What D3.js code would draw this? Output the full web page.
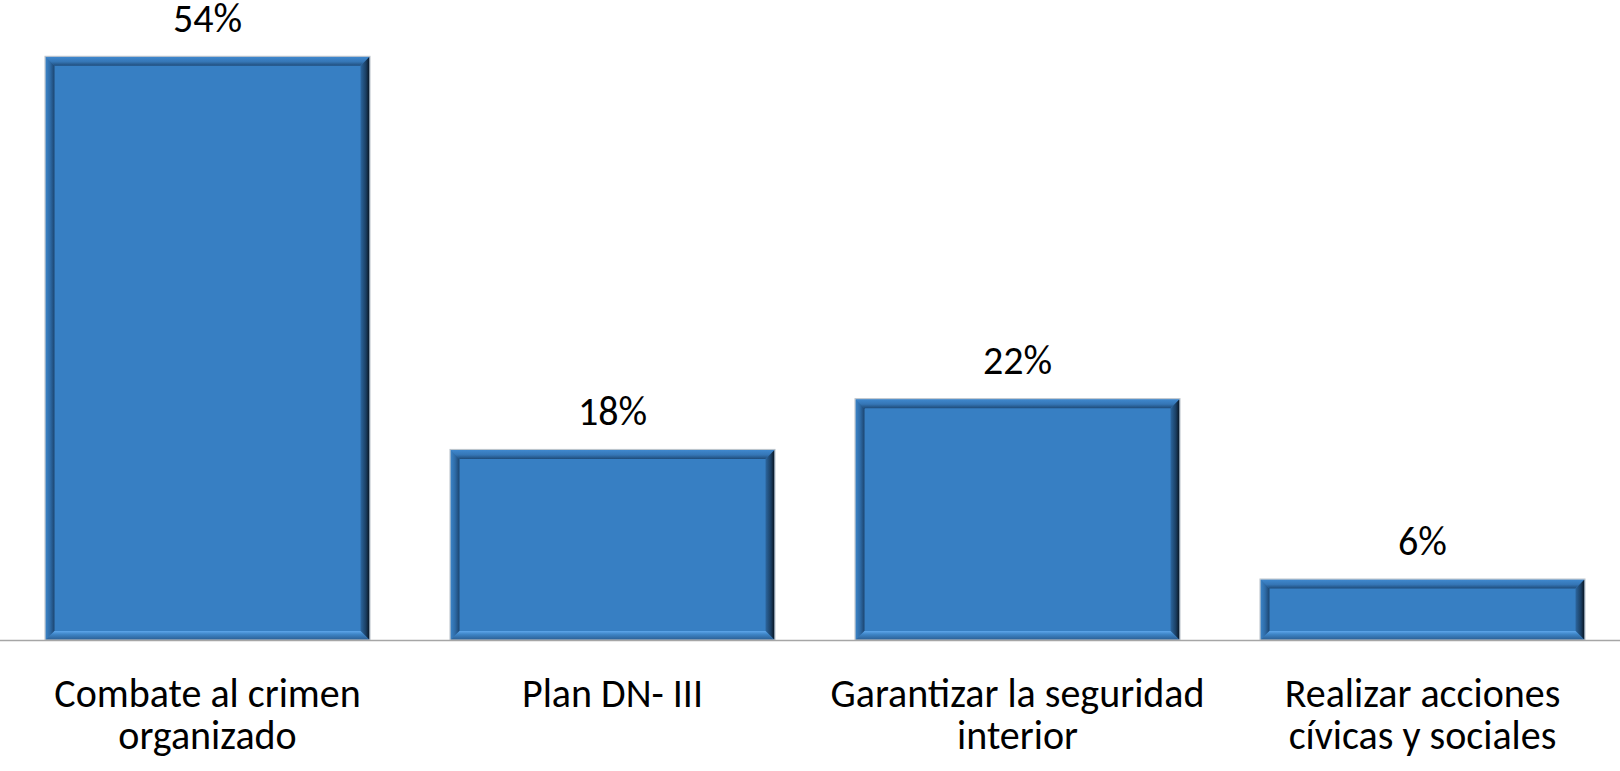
<!DOCTYPE html>
<html>
<head>
    <title>Funciones</title>
    <script src="https://cdn.jsdelivr.net/npm/d3@7/dist/d3.min.js" type="text/javascript"></script>
    <style type="text/css">
        body { margin: 0; background: #fff; }
        svg { display: block; }
        text { font-family: Calibri, Carlito, Lato, sans-serif; fill: #000; }
    </style>
</head>
<body>
<div id="chart"></div>
<script type="text/javascript">
    // data
    var categories = ["Combate al crimen organizado", "Plan DN- III", "Garantizar la seguridad interior", "Realizar acciones cívicas y sociales"];
    var labelLines = [["Combate al crimen", "organizado"], ["Plan DN- III"], ["Garantizar la seguridad", "interior"], ["Realizar acciones", "cívicas y sociales"]];
    var values = [54.0, 17.6, 22.3, 5.6];

    var width = 1620, height = 771;
    var baseY = 640;
    var bev = 9; //bevel width

    var svg = d3.select('#chart')
            .append('svg')
            .attr('width', width)
            .attr('height', height);

    var x = d3.scaleBand()
            .domain(categories)
            .range([5, 1625])
            .paddingInner(0.2)
            .paddingOuter(0.1);

    var y = d3.scaleLinear()
            .domain([0, 60])
            .range([baseY, baseY - 648]);

    // gradients for the bevel edges
    var defs = svg.append('defs');
    function grad(id, x1, y1, x2, y2, stops) {
        var g = defs.append('linearGradient').attr('id', id)
            .attr('x1', x1).attr('y1', y1).attr('x2', x2).attr('y2', y2);
        stops.forEach(function(s) {
            g.append('stop').attr('offset', s[0]).attr('stop-color', s[1]);
        });
    }
    grad('gTop', 0, 0, 0, 1, [[0, '#3f88ce'], [0.55, '#3576b6'], [1, '#1f4c7a']]);
    grad('gLeft', 0, 0, 1, 0, [[0, '#3b83c6'], [0.5, '#2f6ca8'], [1, '#1c4570']]);
    grad('gRight', 0, 0, 1, 0, [[0, '#2c669f'], [0.6, '#1b3f63'], [1, '#08131f']]);
    grad('gBottom', 0, 0, 0, 1, [[0, '#5ea6ea'], [0.35, '#3f86c8'], [1, '#2a5d92']]);

    var bars = svg.selectAll('g.bar')
            .data(categories)
            .enter().append('g')
            .attr('class', 'bar');

    bars.each(function(d, i) {
        var g = d3.select(this);
        var x0 = x(d), x1 = x(d) + x.bandwidth();
        var y0 = y(values[i]), y1 = y(0);
        g.append('rect')
            .attr('x', x0).attr('y', y0)
            .attr('width', x1 - x0).attr('height', y1 - y0)
            .attr('fill', '#377fc3');
        var pts = function(a) { return a.map(function(p) { return p.join(','); }).join(' '); };
        g.append('polygon').attr('fill', 'url(#gTop)')
            .attr('points', pts([[x0, y0], [x1, y0], [x1 - bev, y0 + bev], [x0 + bev, y0 + bev]]));
        g.append('polygon').attr('fill', 'url(#gLeft)')
            .attr('points', pts([[x0, y0], [x0 + bev, y0 + bev], [x0 + bev, y1 - bev], [x0, y1]]));
        g.append('polygon').attr('fill', 'url(#gRight)')
            .attr('points', pts([[x1, y0], [x1, y1], [x1 - bev, y1 - bev], [x1 - bev, y0 + bev]]));
        g.append('polygon').attr('fill', 'url(#gBottom)')
            .attr('points', pts([[x0, y1], [x0 + bev, y1 - bev], [x1 - bev, y1 - bev], [x1, y1]]));
        g.append('rect')
            .attr('x', x0 - 0.5).attr('y', y0 - 0.5)
            .attr('width', x1 - x0 + 1).attr('height', y1 - y0 + 0.5)
            .attr('fill', 'none')
            .attr('stroke', '#b8c0c8')
            .attr('stroke-width', 1);
    });

    // value labels
    svg.selectAll('text.val')
        .data(categories)
        .enter().append('text')
        .attr('class', 'val')
        .attr('x', function(d) { return x(d) + x.bandwidth() / 2; })
        .attr('y', function(d, i) { return y(values[i]) - 25; })
        .attr('text-anchor', 'middle')
        .style('font-size', '40px')
        .text(function(d, i) { return d3.format('.0f')(values[i]) + '%'; });

    // baseline
    svg.append('line')
        .attr('x1', 0).attr('x2', width)
        .attr('y1', baseY + 0.5).attr('y2', baseY + 0.5)
        .attr('stroke', '#a6a6a6')
        .attr('stroke-width', 1.5);

    // category labels
    var cat = svg.selectAll('text.cat')
        .data(categories)
        .enter().append('text')
        .attr('class', 'cat')
        .attr('text-anchor', 'middle')
        .style('font-size', '40px')
        .attr('transform', function(d) { return 'translate(' + (x(d) + x.bandwidth() / 2) + ',707)'; });
    cat.selectAll('tspan')
        .data(function(d, i) { return labelLines[i]; })
        .enter().append('tspan')
        .attr('x', 0)
        .attr('dy', function(d, j) { return j ? 42 : 0; })
        .text(function(d) { return d; });
</script>
</body>
</html>
